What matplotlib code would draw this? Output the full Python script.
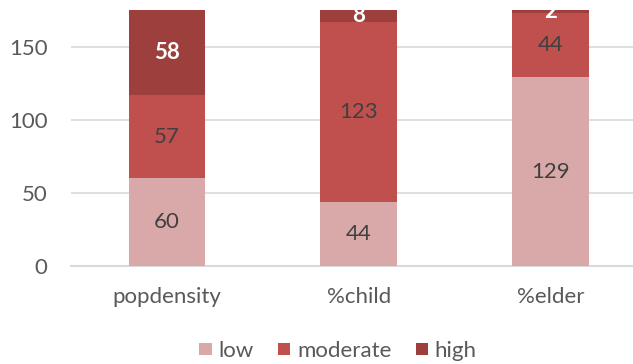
import matplotlib.pyplot as plt
import numpy as np

plt.rcParams["font.family"] = ["Lato", "DejaVu Sans"]

categories = ["popdensity", "%child", "%elder"]
series = ["low", "moderate", "high"]
low = [60, 44, 129]
moderate = [57, 123, 44]
high = [58, 8, 2]

colors = ["#D9A9AA", "#C0504D", "#9C3F3D"]
label_colors = ["#404040", "#404040", "white"]
label_weights = ["normal", "normal", "bold"]

fig = plt.figure(figsize=(6.33, 3.64), dpi=100)
ax = fig.add_axes([71 / 633, 98 / 364, 562 / 633, 256 / 364])

x = np.arange(len(categories))
bottom = np.zeros(len(categories))
for name, vals, col, tcol, tw in zip(series, [low, moderate, high], colors,
                                     label_colors, label_weights):
    vals = np.asarray(vals, dtype=float)
    ax.bar(x, vals, bottom=bottom, width=0.4, color=col, label=name, zorder=3)
    for xi, b, v in zip(x, bottom, vals):
        ax.text(xi, b + v / 2, f"{int(v)}", ha="center", va="center",
                fontsize=16, color=tcol, fontweight=tw, zorder=4, clip_on=True)
    bottom += vals

ax.set_ylim(0, 175)
ax.set_xlim(-0.5, 2.43)
ax.set_yticks([0, 50, 100, 150])
ax.yaxis.grid(True, color="#D9D9D9", linewidth=1.2, zorder=0)
ax.set_axisbelow(True)
for side in ["top", "right", "left"]:
    ax.spines[side].set_visible(False)
ax.spines["bottom"].set_color("#D9D9D9")
ax.spines["bottom"].set_linewidth(1.5)
ax.tick_params(axis="both", length=0, labelsize=16, colors="#595959")
ax.tick_params(axis="y", pad=17)
ax.tick_params(axis="x", pad=15)
ax.set_xticks(x)
ax.set_xticklabels(categories)

fig.legend(loc="center", bbox_to_anchor=(338 / 633, 13 / 364),
           ncol=3, frameon=False, fontsize=16, handlelength=0.55,
           handleheight=0.5, handletextpad=0.3, columnspacing=1.1,
           labelcolor="#595959")

fig.savefig("out.png", dpi=100)
